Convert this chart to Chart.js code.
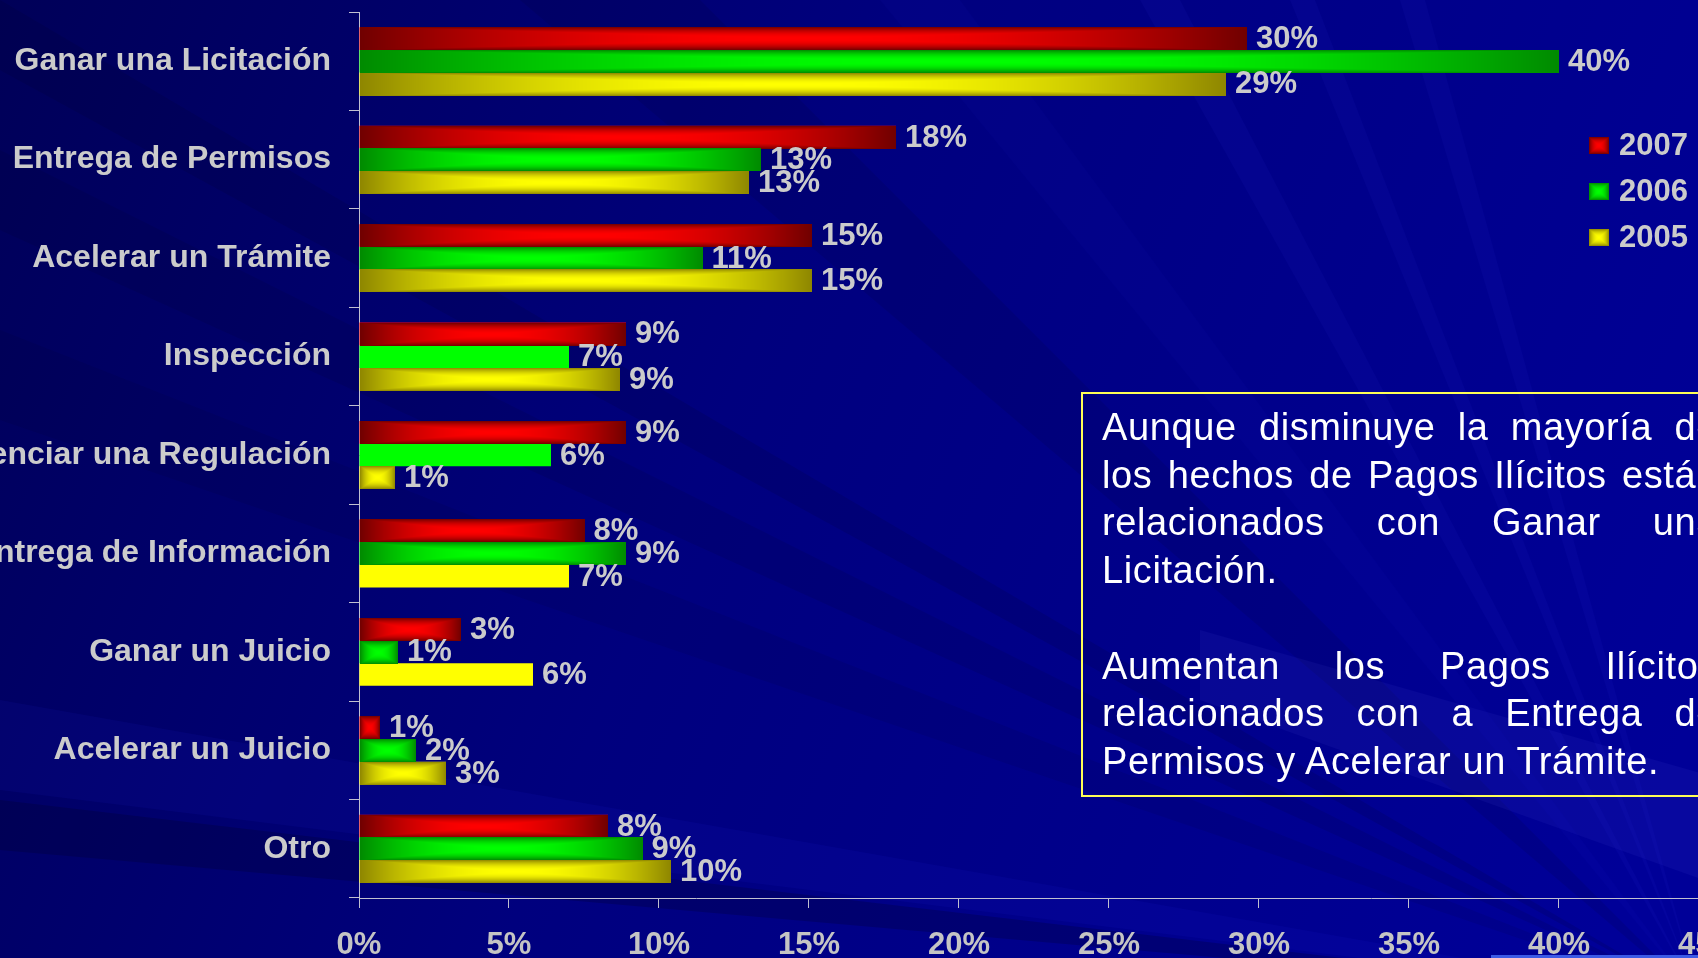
<!DOCTYPE html>
<html>
<head>
<meta charset="utf-8">
<script src="https://cdn.jsdelivr.net/npm/chart.js@4.4.1/dist/chart.umd.min.js"></script>
<style>
  html, body { margin: 0; padding: 0; overflow: hidden; width: 1698px; height: 958px; background: #000080; }
  #wrap { position: relative; width: 1698px; height: 958px; overflow: hidden; }
  #chart { position: absolute; left: 0; top: 0; }
  #note {
    position: absolute; left: 1081px; top: 392px; width: 657px; height: 405px;
    box-sizing: border-box; border: 2px solid #ffff55;
    padding: 10px 18px 0 19px;
    font-family: "Liberation Sans", Arial, sans-serif; font-size: 38px;
    line-height: 47.7px; letter-spacing: 0.6px; color: #ffffff;
  }
  #note .j { text-align: justify; text-align-last: justify; }
</style>
</head>
<body>
<div id="wrap">
  <canvas id="chart" width="1759" height="958"></canvas>
  <div id="note">
    <div class="j">Aunque disminuye la mayoría de</div>
    <div class="j">los hechos de Pagos Ilícitos están</div>
    <div class="j">relacionados con Ganar una</div>
    <div>Licitación.</div>
    <div>&nbsp;</div>
    <div class="j">Aumentan los Pagos Ilícitos</div>
    <div class="j">relacionados con a Entrega de</div>
    <div>Permisos y Acelerar un Trámite.</div>
  </div>
</div>
<script>
// data (percent)
var categories = [
  "Ganar una Licitación",
  "Entrega de Permisos",
  "Acelerar un Trámite",
  "Inspección",
  "Influenciar una Regulación",
  "Entrega de Información",
  "Ganar un Juicio",
  "Acelerar un Juicio",
  "Otro"
];
var years = ["2007", "2006", "2005"];
var values2007 = [29.6, 17.9, 15.1, 8.9, 8.9, 7.52, 3.4, 0.7, 8.3];
var values2006 = [40.0, 13.4, 11.45, 7.0, 6.4, 8.9, 1.3, 1.9, 9.45];
var values2005 = [28.9, 13.0, 15.1, 8.7, 1.2, 7.0, 5.8, 2.9, 10.4];
var xTicks = [0, 5, 10, 15, 20, 25, 30, 35, 40, 45];

// colours for each series: bright centre and dark rim of the bevelled bars
var brightColors = [[255, 0, 0], [0, 255, 0], [255, 255, 0]];
var darkColors = [[112, 0, 0], [0, 138, 0], [142, 134, 0]];
// a few bars in the original are drawn flat, without the bevel
var flatBars = ["1-3", "1-4", "2-5", "2-6"];

var labelColor = "#cbcbcb";
var axisColor = "#c0c0d0";
var fontFamily = "'Liberation Sans', Arial, sans-serif";

function rgb(c) {
  return "rgb(" + c[0] + "," + c[1] + "," + c[2] + ")";
}

// paint a rectangle whose colour fades from the centre to the rim
function bevelRect(ctx, x, y, w, h, dark, bright) {
  w = Math.round(w);
  h = Math.round(h);
  if (w < 1 || h < 1) return;
  var off = document.createElement("canvas");
  off.width = w;
  off.height = h;
  var octx = off.getContext("2d");
  var img = octx.createImageData(w, h);
  for (var j = 0; j < h; j++) {
    var ty = Math.abs(j + 0.5 - h / 2) / (h / 2);
    for (var i = 0; i < w; i++) {
      var tx = Math.abs(i + 0.5 - w / 2) / (w / 2);
      var t = Math.max(tx, ty);
      t = t * t;
      var k = (j * w + i) * 4;
      img.data[k] = bright[0] + (dark[0] - bright[0]) * t;
      img.data[k + 1] = bright[1] + (dark[1] - bright[1]) * t;
      img.data[k + 2] = bright[2] + (dark[2] - bright[2]) * t;
      img.data[k + 3] = 255;
    }
  }
  octx.putImageData(img, 0, 0);
  ctx.drawImage(off, Math.round(x), Math.round(y));
}

// slide background: blue gradient with faint rays
var backgroundPlugin = {
  id: "slideBackground",
  beforeDraw: function (chart) {
    var c = chart.ctx;
    var w = chart.width;
    var h = chart.height;
    c.save();
    var g = c.createLinearGradient(0, 0, 1698, 700);
    g.addColorStop(0, "#000058");
    g.addColorStop(0.45, "#00007e");
    g.addColorStop(1, "#000098");
    c.fillStyle = g;
    c.fillRect(0, 0, w, h);

    var fx = 1700, fy = 1000;
    var rays = [
      [[0, 700], [0, 790], "rgba(40,40,255,0.07)"],
      [[0, 800], [0, 850], "rgba(0,0,30,0.22)"],
      [[0, 0], [0, 70], "rgba(0,0,30,0.12)"],
      [[0, 150], [0, 230], "rgba(0,0,30,0.10)"],
      [[0, 330], [0, 420], "rgba(0,0,30,0.08)"],
      [[520, 0], [700, 0], "rgba(0,0,30,0.10)"],
      [[1140, 0], [1180, 0], "rgba(60,60,255,0.06)"],
      [[1290, 0], [1315, 0], "rgba(60,60,255,0.06)"],
      [[1400, 0], [1425, 0], "rgba(60,60,255,0.06)"],
      [[880, 0], [960, 0], "rgba(60,60,255,0.04)"]
    ];
    for (var r = 0; r < rays.length; r++) {
      c.beginPath();
      c.moveTo(fx, fy);
      c.lineTo(rays[r][0][0], rays[r][0][1]);
      c.lineTo(rays[r][1][0], rays[r][1][1]);
      c.closePath();
      c.fillStyle = rays[r][2];
      c.fill();
    }
    // lighter wedge behind the lower part of the note
    c.beginPath();
    c.moveTo(1200, 630);
    c.lineTo(1760, 790);
    c.lineTo(1760, 900);
    c.lineTo(1200, 700);
    c.closePath();
    c.fillStyle = "rgba(120,120,255,0.07)";
    c.fill();
    // thin light strip at the bottom right of the slide
    c.fillStyle = "#3c5ae6";
    c.fillRect(1491, 955, 300, 3);
    c.restore();
  }
};

// bevel shading, value labels and legend
var barDecorPlugin = {
  id: "barDecor",
  afterDatasetsDraw: function (chart) {
    var c = chart.ctx;
    var d, i, meta, p, left, right;
    for (d = 0; d < chart.data.datasets.length; d++) {
      meta = chart.getDatasetMeta(d);
      for (i = 0; i < meta.data.length; i++) {
        if (flatBars.indexOf(d + "-" + i) >= 0) continue;
        p = meta.data[i].getProps(["x", "y", "base", "height"], true);
        left = Math.min(p.x, p.base);
        right = Math.max(p.x, p.base);
        bevelRect(c, left, p.y - p.height / 2, right - left, p.height, darkColors[d], brightColors[d]);
      }
    }
    c.save();
    c.fillStyle = labelColor;
    c.font = "bold 31px " + fontFamily;
    c.textAlign = "left";
    c.textBaseline = "middle";
    for (d = 0; d < chart.data.datasets.length; d++) {
      meta = chart.getDatasetMeta(d);
      for (i = 0; i < meta.data.length; i++) {
        p = meta.data[i].getProps(["x", "y", "base"], true);
        right = Math.max(p.x, p.base);
        c.fillText(Math.round(chart.data.datasets[d].data[i]) + "%", right + 9, p.y + 1);
      }
    }
    c.restore();
  },
  afterDraw: function (chart) {
    var c = chart.ctx;
    c.save();
    c.font = "bold 31px " + fontFamily;
    c.fillStyle = labelColor;
    c.textBaseline = "middle";
    for (var d = 0; d < chart.data.datasets.length; d++) {
      var cy = 145 + d * 46;
      bevelRect(c, 1589, cy - 8, 20, 17, darkColors[d], brightColors[d]);
      c.fillText(chart.data.datasets[d].label, 1619, cy + 1);
    }
    c.restore();
  }
};

var ctx = document.getElementById("chart").getContext("2d");
var chart = new Chart(ctx, {
  type: "bar",
  data: {
    labels: categories,
    datasets: [
      { label: years[0], data: values2007, backgroundColor: rgb(brightColors[0]) },
      { label: years[1], data: values2006, backgroundColor: rgb(brightColors[1]) },
      { label: years[2], data: values2005, backgroundColor: rgb(brightColors[2]) }
    ]
  },
  options: {
    indexAxis: "y",
    responsive: false,
    animation: false,
    devicePixelRatio: 1,
    layout: { padding: { top: 12, right: 50, bottom: 0, left: 0 } },
    datasets: { bar: { categoryPercentage: 0.69, barPercentage: 1 } },
    plugins: { legend: { display: false }, tooltip: { enabled: false } },
    scales: {
      x: {
        min: xTicks[0],
        max: xTicks[xTicks.length - 1],
        afterBuildTicks: function (scale) {
          scale.ticks = xTicks.map(function (v) { return { value: v }; });
        },
        ticks: {
          color: "#c4c4c4",
          font: { family: fontFamily, size: 31, weight: "bold" },
          padding: 19,
          maxRotation: 0,
          callback: function (v) { return v + "%"; }
        },
        grid: { drawOnChartArea: false, tickLength: 10, color: axisColor },
        border: { color: axisColor, width: 1 },
        afterFit: function (scale) { scale.height = 60; }
      },
      y: {
        ticks: {
          color: labelColor,
          font: { family: fontFamily, size: 32, weight: "bold" },
          padding: 18
        },
        grid: { drawOnChartArea: false, tickLength: 10, color: axisColor },
        border: { color: axisColor, width: 1 },
        afterFit: function (scale) {
          scale.width = 359;
          scale.paddingTop = 0;
          scale.paddingBottom = 0;
        }
      }
    }
  },
  plugins: [backgroundPlugin, barDecorPlugin]
});
</script>
</body>
</html>
